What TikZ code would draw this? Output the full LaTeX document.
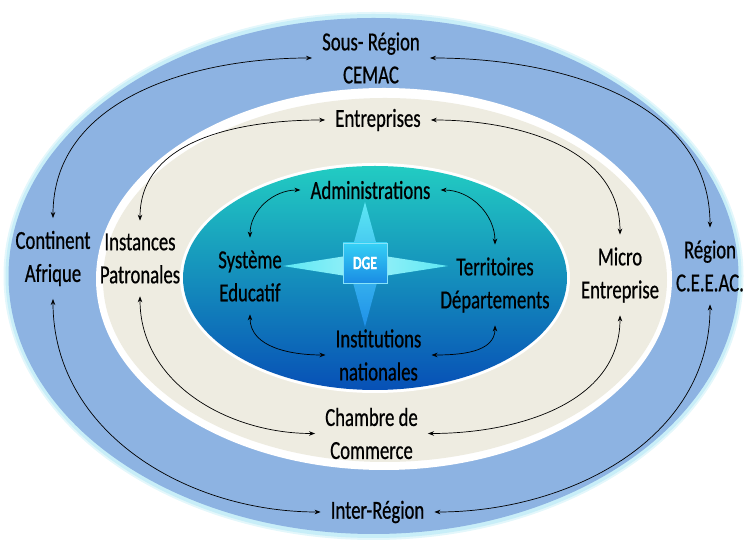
\documentclass[tikz,border=0pt]{standalone}
\usepackage{fontspec}
\setmainfont{Carlito}[FakeStretch=0.72, FakeBold=0.6]
\usetikzlibrary{arrows.meta}
\definecolor{outerblue}{HTML}{8DB3E2}
\definecolor{glow}{HTML}{C8EEF8}
\definecolor{beige}{HTML}{EEECE1}
\definecolor{tealtop}{HTML}{22CCC2}
\definecolor{midblue}{HTML}{16AAD8}
\definecolor{deepblue}{HTML}{0750B6}
\definecolor{starhi}{HTML}{5CE8F4}
\definecolor{starlo}{HTML}{1E8FE9}
\definecolor{sqtop}{HTML}{35D0F5}
\definecolor{sqbot}{HTML}{1A8CE4}
\begin{document}
\begin{tikzpicture}[x=1pt,y=1pt,
  lbl/.style={font=\fontsize{26}{33}\selectfont, align=center, inner xsep=10pt, inner ysep=12.7pt},
  link/.style={{Stealth[length=6pt,width=4.5pt]}-{Stealth[length=6pt,width=4.5pt]}, line width=0.7pt}]
\useasboundingbox (0,0) rectangle (744,540);
% outer ring
\fill[glow!50!white] (373.5,264) ellipse [x radius=370, y radius=264];
\fill[glow] (373.5,264) ellipse [x radius=368, y radius=262];
\fill[outerblue] (373.5,264) ellipse [x radius=365, y radius=258];
% middle ring
\fill[white] (384,261) ellipse [x radius=288, y radius=191];
\fill[beige] (385,260) ellipse [x radius=282, y radius=182];
% inner ellipse
\fill[white] (375,262) ellipse [x radius=195, y radius=115];
\shade[top color=tealtop, middle color=midblue, bottom color=deepblue] (375,262) ellipse [x radius=192, y radius=112];
% star
\shade[left color=starhi, right color=starhi, middle color=starhi!60!white] (283,274) -- (365,287) -- (448,274) -- (365,261) -- cycle;
\shade[top color=starhi, bottom color=starlo] (365,338) -- (382,276) -- (365,213) -- (348,276) -- cycle;
\node[minimum width=44pt, minimum height=40pt, inner sep=0pt, top color=sqtop, bottom color=sqbot, draw=sqtop!60!white, line width=0.6pt,
  text=white, font=\bfseries\fontsize{19}{21}\selectfont] (dge) at (365,277) {DGE};
% labels
\node[lbl] (sous) at (371,482) {Sous- Région\\CEMAC};
\node[lbl] (entr) at (378,420) {Entreprises};
\node[lbl] (admin) at (370.5,350) {Administrations};
\node[lbl] (sys) at (250,264) {Système\\Educatif};
\node[lbl] (terr) at (495,255) {Territoires\\Départements};
\node[lbl] (inst) at (378.5,185) {Institutions\\nationales};
\node[lbl] (cont) at (53,281.5) {Continent\\Afrique};
\node[lbl] (instp) at (140,281.5) {Instances\\Patronales};
\node[lbl] (micro) at (620,265) {Micro\\Entreprise};
\node[lbl] (reg) at (710,274) {Région\\C.E.E.AC.};
\node[lbl] (cham) at (371.5,106.5) {Chambre de\\Commerce};
\node[lbl] (inter) at (377.5,28) {Inter-Région};
% connectors
\draw[link] (sous.west) to[out=180,in=90] (cont.north);
\draw[link] (sous.east) to[out=0,in=90] (reg.north);
\draw[link] (cont.south) to[out=-90,in=180] (inter.west);
\draw[link] (reg.south) to[out=-90,in=0] (inter.east);
\draw[link] (entr.west) to[out=180,in=90] (instp.north);
\draw[link] (entr.east) to[out=0,in=90] (micro.north);
\draw[link] (instp.south) to[out=-90,in=180] (cham.west);
\draw[link] (micro.south) to[out=-90,in=0] (cham.east);
\draw[link] (admin.west) to[out=180,in=90] (sys.north);
\draw[link] (admin.east) to[out=0,in=90] (terr.north);
\draw[link] (sys.south) to[out=-90,in=180] (inst.west);
\draw[link] (terr.south) to[out=-90,in=0] (inst.east);
\end{tikzpicture}
\end{document}
